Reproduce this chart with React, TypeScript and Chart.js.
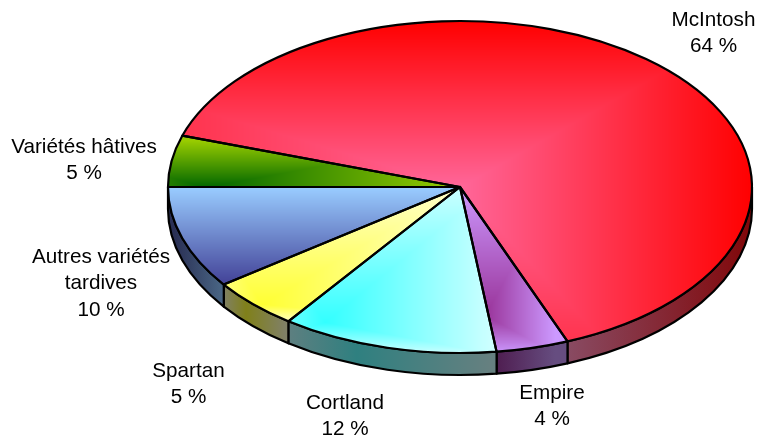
import React, { useEffect, useRef } from "react";
import { Chart, registerables } from "chart.js";

Chart.register(...registerables);

const categories = ["Variétés hâtives", "McIntosh", "Empire", "Cortland", "Spartan", "Autres variétés tardives"];
const values = [5, 64, 4, 12, 5, 10];
const labelLines = [["Variétés hâtives", "5 %"], ["McIntosh", "64 %"], ["Empire", "4 %"], ["Cortland", "12 %"], ["Spartan", "5 %"], ["Autres variétés", "tardives", "10 %"]];
const labelAnchors = [[84, 147], [713.5, 20], [552, 393], [345, 403], [188.5, 371], [101, 257]];

const W = 758, H = 439, TILT = 166 / 292, DEPTH = 22, LINE = 26.5;

type Fill = { f: number[]; box: number[]; inner: number[]; outer: number[] };
const topFills: Fill[] = [
  { f: [205, 187], box: [40, 460, 140, 187], inner: [0, 102, 0], outer: [153, 204, 0] },
  { f: [460, 187], box: [-100, 752, 21, 500], inner: [255, 102, 153], outer: [255, 0, 0] },
  { f: [485, 315], box: [440, 555, 187, 353], inner: [153, 51, 153], outer: [204, 153, 255] },
  { f: [325, 322], box: [220, 490, 187, 353], inner: [51, 255, 255], outer: [204, 255, 255] },
  { f: [262, 304], box: [180, 460, 187, 322], inner: [255, 255, 51], outer: [255, 255, 204] },
  { f: [225, 282], box: [100, 460, 187, 290], inner: [68, 68, 153], outer: [153, 204, 255] },
];
const wallStops: (string[] | null)[] = [
  null,
  ["#8a5570", "#800000"],
  ["#4d1a4d", "#664d80"],
  ["#607f80", "#2f8080", "#668080"],
  ["#808060", "#80801a", "#808066"],
  ["#2a3055", "#4c6a88"],
];
const wallRanges = [[0, 1], [540, 770], [492, 555], [285, 490], [225, 285], [175, 226]];

function rectGradient(ctx: CanvasRenderingContext2D, fill: Fill): CanvasPattern {
  const off = document.createElement("canvas");
  off.width = W;
  off.height = H;
  const o = off.getContext("2d")!;
  const img = o.createImageData(W, H);
  const [fx, fy] = fill.f;
  const [x0, x1, y0, y1] = fill.box;
  for (let y = 0; y < H; y++) {
    for (let x = 0; x < W; x++) {
      const tx = x < fx ? (fx - x) / Math.max(fx - x0, 1) : (x - fx) / Math.max(x1 - fx, 1);
      const ty = y < fy ? (fy - y) / Math.max(fy - y0, 1) : (y - fy) / Math.max(y1 - fy, 1);
      const t = Math.min(1, Math.max(tx, ty));
      const i = (y * W + x) * 4;
      for (let c = 0; c < 3; c++) img.data[i + c] = fill.inner[c] + (fill.outer[c] - fill.inner[c]) * t;
      img.data[i + 3] = 255;
    }
  }
  o.putImageData(img, 0, 0);
  return ctx.createPattern(off, "no-repeat")!;
}

function wallPath(ctx: CanvasRenderingContext2D, cx: number, cy: number, rx: number, a0: number, a1: number) {
  const ry = rx * TILT;
  ctx.beginPath();
  ctx.ellipse(cx, cy, rx, ry, 0, a0, a1);
  ctx.ellipse(cx, cy + DEPTH, rx, ry, 0, a1, a0, true);
  ctx.closePath();
}

export default function App() {
  const ref = useRef<HTMLCanvasElement>(null);
  useEffect(() => {
    const canvas = ref.current!;
    const ctx = canvas.getContext("2d")!;
    const patterns = topFills.map((f) => rectGradient(ctx, f));

    const tiltPlugin = {
      id: "tilt",
      beforeDatasetsDraw(chart: any) {
        const c = chart.ctx;
        const arcs = chart.getDatasetMeta(0).data;
        const { x: cx, y: cy } = arcs[0];
        patterns.forEach((p) => p.setTransform(new DOMMatrix().translate(cx, cy).scale(1, 1 / TILT).translate(-cx, -cy)));
        c.save();
        c.lineWidth = 2.2;
        c.strokeStyle = "#000";
        c.lineJoin = "round";
        arcs.forEach((a: any, i: number) => {
          const stops = wallStops[i];
          if (!stops) return;
          const s = Math.max(a.startAngle, 2 * Math.PI);
          const e = Math.min(a.endAngle, 3 * Math.PI);
          if (e <= s) return;
          const [gx0, gx1] = wallRanges[i];
          const g = c.createLinearGradient(gx0, 0, gx1, 0);
          stops.forEach((st, j) => g.addColorStop(stops.length === 3 && j === 1 ? 0.35 : j / (stops.length - 1), st));
          wallPath(c, cx, cy, a.outerRadius, s, e);
          c.fillStyle = g;
          c.fill();
          c.stroke();
        });
        c.restore();
        c.save();
        c.translate(cx, cy);
        c.scale(1, TILT);
        c.translate(-cx, -cy);
      },
      afterDatasetsDraw(chart: any) {
        const c = chart.ctx;
        c.restore();
        const arcs = chart.getDatasetMeta(0).data;
        c.save();
        c.lineWidth = 2.2;
        c.strokeStyle = "#000";
        c.lineJoin = "round";
        arcs.forEach((a: any) => {
          c.beginPath();
          c.moveTo(a.x, a.y);
          c.ellipse(a.x, a.y, a.outerRadius, a.outerRadius * TILT, 0, a.startAngle, a.endAngle);
          c.closePath();
          c.stroke();
        });
        c.fillStyle = "#000";
        c.font = '20.7px "Liberation Sans"';
        c.textAlign = "center";
        c.textBaseline = "middle";
        labelLines.forEach((lines, i) => {
          lines.forEach((t, j) => c.fillText(t, labelAnchors[i][0], labelAnchors[i][1] + j * LINE));
        });
        c.restore();
      },
    };

    const chart = new Chart(canvas, {
      type: "pie",
      data: {
        labels: categories,
        datasets: [{ data: values, backgroundColor: patterns as any, borderWidth: 0, clip: false as any }],
      },
      options: {
        responsive: false,
        animation: false,
        events: [],
        rotation: 270,
        radius: 292,
        layout: { padding: { left: 162, bottom: 65 } },
        plugins: { legend: { display: false }, tooltip: { enabled: false } },
      },
      plugins: [tiltPlugin],
    } as any);
    return () => chart.destroy();
  }, []);
  return (
    <div style={{ position: "absolute", left: 0, top: 0, width: W, height: H, background: "#fff" }}>
      <canvas ref={ref} width={W} height={H} style={{ display: "block" }} />
    </div>
  );
}
